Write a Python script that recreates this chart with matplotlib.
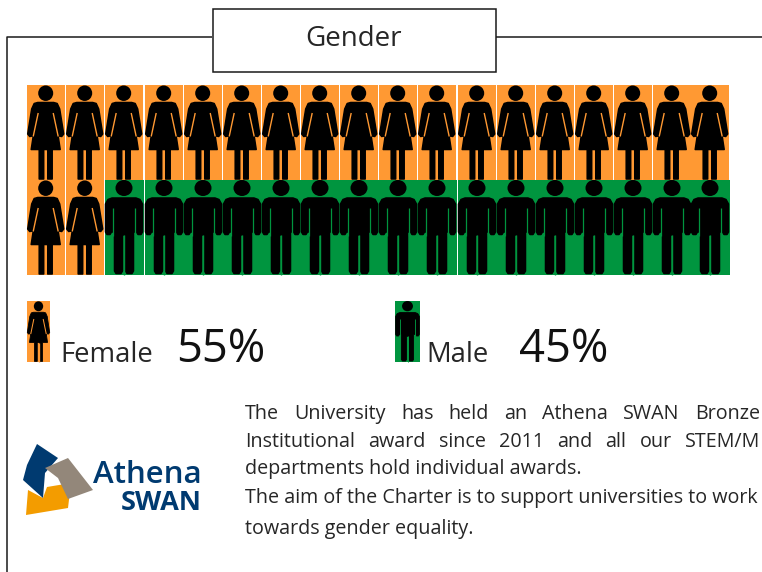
import matplotlib
matplotlib.use("Agg")
import matplotlib.pyplot as plt
from matplotlib.patches import Rectangle, Polygon, Ellipse

# ---- data ----
title = "Gender"
categories = ["Female", "Male"]
percent_labels = ["55%", "45%"]
top_row = ["F"] * 18
bottom_row = ["F"] * 2 + ["M"] * 16
col_left = [27, 66, 105, 145, 184, 223, 262, 301, 340, 379, 418, 458, 497, 536, 575, 614, 653, 691]
col_right_end = 729
body_lines = [
    "The University has held an Athena SWAN Bronze",
    "Institutional award since 2011 and all our STEM/M",
    "departments hold individual awards.",
    "The aim of the Charter is to support universities to work",
    "towards gender equality.",
]
body_justified = [True, True, False, False, False]
body_baseline = [419, 447, 474, 503, 534]

ORANGE = "#FF9933"
GREEN = "#00953F"
NAVY = "#003A70"
TEXT = "#262626"
FONT = "Open Sans"

fig = plt.figure(figsize=(7.62, 5.72), dpi=100)
ax = fig.add_axes([0, 0, 1, 1])
ax.set_xlim(0, 762)
ax.set_ylim(572, 0)
ax.axis("off")


def female(cx, top, h, w, bg, lw=1.1):
    sy = h / 95.0
    sx = w / 37.0
    P = lambda pts: [(cx + x * sx, top + y * sy) for x, y in pts]
    k = dict(fc="black", ec="black", lw=lw, joinstyle="round", zorder=3)
    ax.add_patch(Ellipse((cx, top + 8.2 * sy), 15 * sx, 15.5 * sy, fc="black", ec="none", zorder=3))
    ax.add_patch(Polygon(P([(-8, 17.5), (8, 17.5), (11.5, 18.5), (14, 24), (18, 49), (16, 51.5),
                            (13.5, 51), (12, 48), (14.5, 64.5), (6.5, 64.5), (6.5, 94), (2, 94),
                            (2, 64.5), (-2, 64.5), (-2, 94), (-6.5, 94), (-6.5, 64.5), (-14.5, 64.5),
                            (-12, 48), (-13.5, 51), (-16, 51.5), (-18, 49), (-14, 24), (-11.5, 18.5)]), **k))
    ks = dict(color=bg, lw=1.0 * (lw / 1.1) ** 0.5, zorder=4, solid_capstyle="butt")
    for s in (-1, 1):
        ax.plot([cx + s * 7.5 * sx, cx + s * 12.5 * sx], [top + 28 * sy, top + 51.5 * sy], **ks)
    ax.plot([cx, cx], [top + 66 * sy, top + 95 * sy], color=bg, lw=1.3 * (lw / 1.1) ** 0.5, zorder=4,
            solid_capstyle="butt")


def male(cx, top, h, w, bg, lw=1.1):
    sy = h / 95.0
    sx = w / 39.0
    P = lambda pts: [(cx + x * sx, top + y * sy) for x, y in pts]
    k = dict(fc="black", ec="black", lw=lw, joinstyle="round", zorder=3)
    ax.add_patch(Ellipse((cx, top + 8 * sy), 17 * sx, 16 * sy, fc="black", ec="none", zorder=3))
    ax.add_patch(Polygon(P([(-12, 18), (12, 18), (16, 19.5), (18.5, 24), (18.5, 52), (17, 54.5),
                            (14, 54.5), (12.5, 52), (9.5, 52), (9.5, 91), (8, 93.5), (3, 93.5),
                            (1.5, 91), (1.5, 55), (-1.5, 55), (-1.5, 91), (-3, 93.5), (-8, 93.5),
                            (-9.5, 91), (-9.5, 52), (-12.5, 52), (-14, 54.5), (-17, 54.5),
                            (-18.5, 52), (-18.5, 24), (-16, 19.5)]), **k))
    ks = dict(color=bg, lw=0.9 * (lw / 1.1) ** 0.5, zorder=4, solid_capstyle="butt")
    for s in (-1, 1):
        ax.plot([cx + s * 11 * sx] * 2, [top + 28 * sy, top + 56 * sy], **ks)
    ax.plot([cx, cx], [top + 55 * sy, top + 95 * sy], color=bg, lw=1.0 * (lw / 1.1) ** 0.5, zorder=4,
            solid_capstyle="butt")


# ---- pictogram grid ----
rows = [(top_row, 85), (bottom_row, 180)]
for row, top in rows:
    for i, kind in enumerate(row):
        left = col_left[i]
        nxt = col_left[i + 1] if i + 1 < len(col_left) else col_right_end
        if kind == "F":
            right = left + 37.5
            ax.add_patch(Rectangle((left, top), right - left, 95, fc=ORANGE, ec="none", zorder=1))
        else:
            right = nxt - 1.2 if (i in (2, 10)) else nxt
            if i == len(row) - 1:
                right = col_right_end + 1
            ax.add_patch(Rectangle((left, top), right - left, 95, fc=GREEN, ec="none", zorder=1))
for row, top in rows:
    for i, kind in enumerate(row):
        left = col_left[i]
        if kind == "F":
            female(left + 18.7, top, 95, 37, ORANGE)
        else:
            male(left + 19, top, 95, 39, GREEN)

# ---- frame and title ----
frame = dict(color="#1a1a1a", lw=1.1, solid_capstyle="butt", zorder=2)
ax.plot([6.5, 6.5, 212], [572, 36.5, 36.5], **frame)
ax.plot([496, 762], [36.5, 36.5], **frame)
ax.add_patch(Rectangle((212.5, 8.5), 283, 63, fc="white", ec="#1a1a1a", lw=1.1, zorder=2))
ax.text(353.5, 46, title, ha="center", va="baseline", fontsize=20, family=FONT, color=TEXT, zorder=5)

# ---- legend ----
ax.add_patch(Rectangle((27, 301), 23, 61, fc=ORANGE, ec="none", zorder=1))
female(38.5, 301, 61, 23, ORANGE, lw=0.6)
ax.text(60, 362, categories[0], fontsize=19.8, family=FONT, color=TEXT, va="baseline")
ax.text(176, 362, percent_labels[0], fontsize=32.7, family=FONT, color="#111111", va="baseline")

ax.add_patch(Rectangle((395, 301), 25, 61, fc=GREEN, ec="none", zorder=1))
male(407.5, 301, 61, 25, GREEN, lw=0.6)
ax.text(426, 362, categories[1], fontsize=19.8, family=FONT, color=TEXT, va="baseline")
ax.text(519, 362, percent_labels[1], fontsize=32.7, family=FONT, color="#111111", va="baseline")

# ---- body text (justified by measuring words) ----
fig.canvas.draw()
rend = fig.canvas.get_renderer()
BODY_L, BODY_R = 245, 760
BODY_FS = 14.2
for line, just, y in zip(body_lines, body_justified, body_baseline):
    if not just:
        ax.text(BODY_L, y, line, fontsize=BODY_FS, family=FONT, color=TEXT, va="baseline")
        continue
    words = line.split()
    arts = [ax.text(0, y, w, fontsize=BODY_FS, family=FONT, color=TEXT, va="baseline") for w in words]
    widths = [a.get_window_extent(rend).width for a in arts]
    gap = (BODY_R - BODY_L - sum(widths)) / (len(words) - 1)
    x = BODY_L
    for a, wd in zip(arts, widths):
        a.set_x(x)
        x += wd + gap

# ---- logo ----
ax.add_patch(Polygon([(47, 487), (71, 483), (68, 508), (26, 515), (28, 490), (43, 498)],
                     fc="#F39C00", ec="none", zorder=2))
ax.add_patch(Polygon([(37, 444), (58, 458), (45, 473), (43, 498), (23, 480), (27, 465)],
                     fc=NAVY, ec="none", zorder=3))
ax.add_patch(Polygon([(45, 468), (68, 458), (93, 490), (68, 499), (58, 478)],
                     fc="#93877A", ec="none", zorder=4))
ax.text(202, 483, "Athena", ha="right", va="baseline", fontsize=22.5, family="Open Sans",
        weight="semibold", color=NAVY)
ax.text(202, 510, "SWAN", ha="right", va="baseline", fontsize=19.5, family="Open Sans",
        weight="bold", color=NAVY)

fig.savefig("out.png", dpi=100)
